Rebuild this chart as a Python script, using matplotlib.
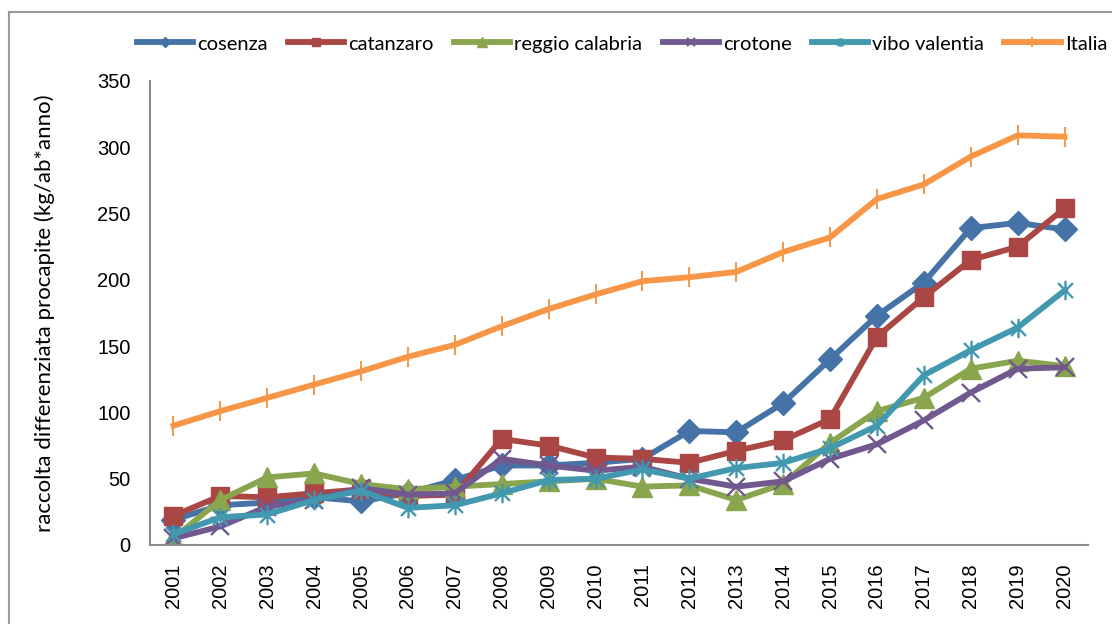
import matplotlib
matplotlib.use("Agg")
import matplotlib.pyplot as plt
from matplotlib.path import Path
from matplotlib.lines import Line2D

years = list(range(2001, 2021))
cosenza = [19, 30, 32, 36, 33, 39, 49, 60, 60, 62, 65, 86, 85, 107, 140, 173, 198, 239, 243, 238]
catanzaro = [22, 37, 36, 39, 42, 37, 38, 80, 75, 66, 65, 62, 71, 79, 95, 157, 187, 215, 225, 254]
reggio = [5, 34, 51, 54, 46, 42, 44, 46, 48, 50, 44, 45, 34, 46, 77, 101, 111, 133, 139, 135]
crotone = [5, 14, 29, 34, 43, 38, 39, 65, 60, 56, 59, 50, 44, 48, 65, 76, 94, 115, 133, 134]
vibo = [8, 21, 23, 34, 41, 28, 30, 39, 49, 50, 57, 50, 58, 62, 73, 90, 128, 147, 164, 192]
italia = [90, 101, 111, 121, 131, 142, 151, 165, 178, 189, 199, 202, 206, 221, 232, 261, 272, 293, 309, 308]

names = ["cosenza", "catanzaro", "reggio calabria", "crotone", "vibo valentia", "Italia"]
colors = ["#4572A7", "#AA4643", "#89A54E", "#71588F", "#4198AF", "#F79646"]

# asterisco come in Excel: x + barra verticale
star = Path([(-1, -1), (1, 1), (-1, 1), (1, -1), (0, -1.3), (0, 1.3)],
            [Path.MOVETO, Path.LINETO, Path.MOVETO, Path.LINETO, Path.MOVETO, Path.LINETO])

fig = plt.figure(figsize=(11.12, 6.24), dpi=100)
ax = fig.add_axes([150/1112, 1-545/624, (1088-150)/1112, (545-81)/624])

lw = 4.2
ax.plot(years, cosenza, color=colors[0], lw=lw, marker="D", ms=12, label=names[0])
ax.plot(years, catanzaro, color=colors[1], lw=lw, marker="s", ms=13.5, label=names[1])
ax.plot(years, reggio, color=colors[2], lw=lw, marker="^", ms=14.5, label=names[2])
ax.plot(years, crotone, color=colors[3], lw=lw, marker="x", ms=13, mew=1.7, label=names[3])
ax.plot(years, vibo, color=colors[4], lw=lw, marker=star, ms=14, mew=1.7, label=names[4])
ax.plot(years, italia, color=colors[5], lw=lw, marker="|", ms=15, mew=1.4, label=names[5])

ax.set_xlim(2000.5, 2020.5)
ax.set_ylim(0, 350)
ax.set_xticks(years)
ax.set_xticklabels([str(y) for y in years], rotation=90, fontsize=14.5, family="Liberation Sans")
ax.set_yticks(range(0, 351, 50))
ax.set_yticklabels([str(v) for v in range(0, 351, 50)], fontsize=14.5, family="Liberation Sans")
ax.tick_params(axis="x", length=0, pad=13)
ax.tick_params(axis="y", length=0, pad=14)
for s in ["top", "right"]:
    ax.spines[s].set_visible(False)
for s in ["left", "bottom"]:
    ax.spines[s].set_color("#8C8C8C")
    ax.spines[s].set_linewidth(1.5)

ax.set_ylabel("raccolta differenziata procapite (kg/ab*anno)", fontsize=16, family="Lato", labelpad=30)

fig.legend(loc="center", bbox_to_anchor=(622/1112, 1-44/624), ncol=6, frameon=False,
           prop={"family": "Lato", "size": 14.5}, handlelength=2.8, columnspacing=1.0,
           handletextpad=0.2, markerscale=0.45)

# cornice esterna
fig.add_artist(Line2D([9/1112, 9/1112], [0, 1-12/624], color="#999999", lw=1.5))
fig.add_artist(Line2D([9/1112, 1], [1-12/624, 1-12/624], color="#999999", lw=1.5))

fig.savefig("out.png", dpi=100)
